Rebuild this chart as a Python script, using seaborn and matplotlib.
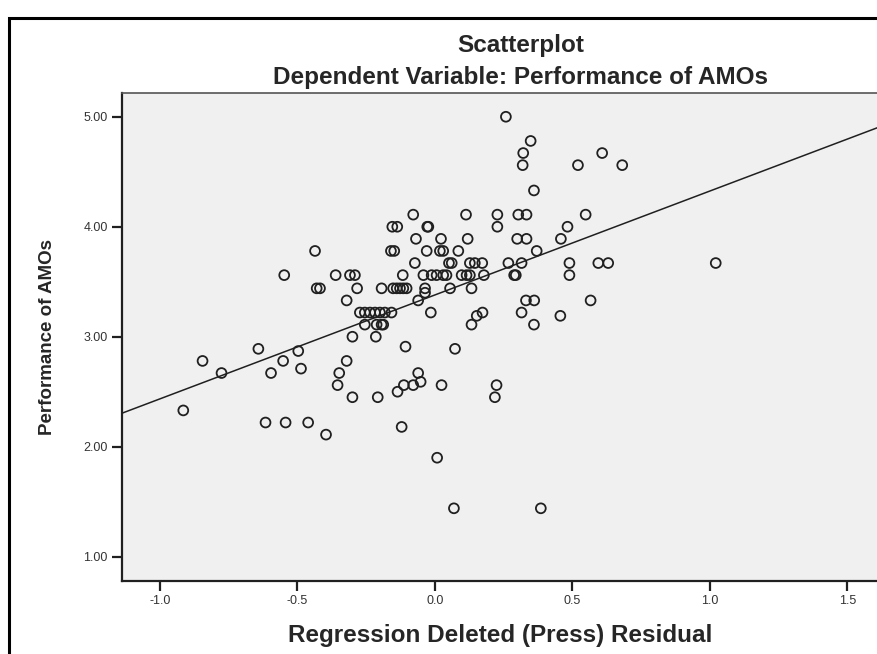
import numpy as np
import pandas as pd
import matplotlib
matplotlib.use("Agg")
import matplotlib.pyplot as plt
import seaborn as sns
from matplotlib.patches import Rectangle

# -------------------------------
# DATA
# -------------------------------
x_500 = [0.258]
x_478 = [0.348]
x_467 = [0.321, 0.608]
x_456 = [0.319, 0.52, 0.681]
x_433 = [0.36]
x_411 = [-0.079, 0.113, 0.227, 0.303, 0.333, 0.548]
x_400 = [-0.155, -0.137, -0.028, -0.024, 0.227, 0.482]
x_389 = [-0.069, 0.022, 0.119, 0.299, 0.333, 0.458]
x_378 = [-0.436, -0.16, -0.148, -0.03, 0.018, 0.03, 0.085, 0.37]
x_367 = [-0.073, 0.051, 0.061, 0.127, 0.145, 0.172, 0.267, 0.315, 0.489, 0.594, 0.63, 1.021]
x_356 = [-0.548, -0.361, -0.309, -0.291, -0.117, -0.042, -0.012, 0.006, 0.03, 0.042,
         0.097, 0.115, 0.127, 0.178, 0.288, 0.294, 0.489]
x_344 = [-0.43, -0.418, -0.283, -0.194, -0.152, -0.139, -0.127, -0.115, -0.103, -0.036, 0.055, 0.133]
x_340 = [-0.036]
x_333 = [-0.321, -0.061, 0.331, 0.361, 0.566]
x_322 = [-0.273, -0.255, -0.236, -0.218, -0.2, -0.182, -0.158, -0.015, 0.173, 0.315]
x_319 = [0.152, 0.456]
x_311 = [-0.255, -0.212, -0.194, -0.188, 0.133, 0.36]
x_300 = [-0.3, -0.215]
x_291 = [-0.107]
x_289 = [-0.642, 0.073]
x_287 = [-0.497]
x_278 = [-0.845, -0.552, -0.321]
x_271 = [-0.487]
x_267 = [-0.776, -0.596, -0.348, -0.061]
x_259 = [-0.052]
x_256 = [-0.354, -0.113, -0.079, 0.024, 0.224]
x_250 = [-0.136]
x_245 = [-0.3, -0.208, 0.218]
x_233 = [-0.915]
x_222 = [-0.616, -0.543, -0.461]
x_218 = [-0.121]
x_211 = [-0.396]
x_190 = [0.008]
x_144 = [0.069, 0.385]

levels = {
    5.00: x_500, 4.78: x_478, 4.67: x_467, 4.56: x_456, 4.33: x_433, 4.11: x_411,
    4.00: x_400, 3.89: x_389, 3.78: x_378, 3.67: x_367, 3.56: x_356, 3.44: x_344,
    3.40: x_340, 3.33: x_333, 3.22: x_322, 3.19: x_319, 3.11: x_311, 3.00: x_300,
    2.91: x_291, 2.89: x_289, 2.87: x_287, 2.78: x_278, 2.71: x_271, 2.67: x_267,
    2.59: x_259, 2.56: x_256, 2.50: x_250, 2.45: x_245, 2.33: x_233, 2.22: x_222,
    2.18: x_218, 2.11: x_211, 1.90: x_190, 1.44: x_144,
}

# fitted line shown in the chart
FIT_SLOPE = 0.945
FIT_INTERCEPT = 3.38

x_ticks = [-1.0, -0.5, 0.0, 0.5, 1.0, 1.5]
y_ticks = [1.0, 2.0, 3.0, 4.0, 5.0]

rows = [(x, y) for y, xs in levels.items() for x in xs]
df = pd.DataFrame(rows, columns=["resid", "perf"])

# -------------------------------
# PLOT
# -------------------------------
sns.set_theme(style="white")
plt.rcParams["font.family"] = ["Liberation Sans", "DejaVu Sans"]

fig = plt.figure(figsize=(8.78, 6.54), dpi=100)
ax = fig.add_axes([0.1386, 0.1116, 0.8614, 0.7457])
ax.set_facecolor("#f0f0f0")

sns.scatterplot(data=df, x="resid", y="perf", ax=ax, s=50, marker="o",
                facecolors="none", edgecolor="#202020", linewidth=1.3, zorder=3)
ax.axline((0, FIT_INTERCEPT), slope=FIT_SLOPE, color="#202020", lw=1.1, zorder=2)

ax.set_xlim(-1.139, 1.611)
ax.set_ylim(0.779, 5.213)
ax.set_xticks(x_ticks)
ax.set_xticklabels([f"{t:.1f}" for t in x_ticks])
ax.set_yticks(y_ticks)
ax.set_yticklabels([f"{t:.2f}" for t in y_ticks])
ax.tick_params(axis="both", direction="out", length=7, width=1.6, color="#202020",
               labelsize=9, labelcolor="#333333", left=True, bottom=True, pad=3)

for side in ["left", "bottom"]:
    ax.spines[side].set_color("#202020")
    ax.spines[side].set_linewidth(1.6)
ax.spines["top"].set_color("#555555")
ax.spines["top"].set_linewidth(1.2)
ax.spines["right"].set_visible(False)

ax.set_xlabel("Regression Deleted (Press) Residual", fontsize=17.5, fontweight="bold", labelpad=12)
ax.set_ylabel("Performance of AMOs", fontsize=13.5, fontweight="bold", labelpad=20)

fig.text(0.593, 0.930, "Scatterplot", ha="center", va="center", fontsize=17.5, fontweight="bold")
fig.text(0.593, 0.881, "Dependent Variable: Performance of AMOs", ha="center", va="center",
         fontsize=17.5, fontweight="bold")

# outer frame
fig.patches.append(Rectangle((9.5 / 878, -0.1), 1.2, 1 - 18.5 / 654 + 0.1,
                             transform=fig.transFigure, fill=False,
                             edgecolor="black", lw=2.2))

fig.savefig("out.png", dpi=100)
